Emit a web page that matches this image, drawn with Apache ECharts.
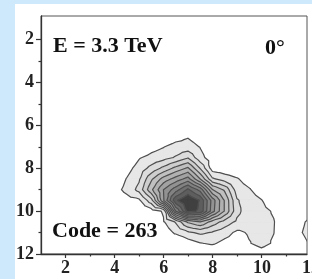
<!DOCTYPE html>
<html>
<head>
<meta charset="utf-8">
<script src="https://cdn.jsdelivr.net/npm/echarts@6/dist/echarts.min.js"></script>
<style>
  html, body { margin: 0; padding: 0; background: #cde9fb; }
  #main { position: absolute; left: 15px; top: 4px; width: 297px; height: 275px; background: #fff; }
</style>
</head>
<body>
<div id="main"></div>
<script>
// grid nodes of the map (x across, y down)
const xNodes = [4, 4.5, 5, 5.5, 6, 6.5, 7, 7.5, 8, 8.5, 9, 9.5, 10, 10.5, 11, 11.5, 12];
const yNodes = [6, 6.5, 7, 7.5, 8, 8.5, 9, 9.5, 10, 10.5, 11, 11.5, 12];
// density at each node, one row per yNode (in contour steps)
const density = [
  [0, 0, 0, 0, 0, 0, 0, 0, 0, 0, 0, 0, 0, 0, 0, 0, 0],
  [0, 0, 0, 0, 0, 0.5, 0.9, 0.5, 0, 0, 0, 0, 0, 0, 0, 0, 0],
  [0, 0, 0, 0.6, 0.95, 1.4, 1.4, 0.95, 0.3, 0, 0, 0, 0, 0, 0, 0, 0],
  [0, 0, 0.9, 1.3, 1.6, 2.1, 2.9, 1.3, 0.5, 0, 0, 0, 0, 0, 0, 0, 0],
  [0.1, 0.6, 1.43, 2.3, 3.26, 4.3, 5.17, 2.94, 0.5, 0.4, 0.2, 0, 0, 0, 0, 0, 0],
  [0.2, 1.05, 1.85, 3.8, 5.4, 6.4, 7.4, 5.0, 2.15, 1.5, 1.1, 0.5, 0.1, 0, 0, 0, 0],
  [0.6, 1.3, 2.3, 4.75, 7.0, 8.55, 10.2, 8.65, 5.05, 3.8, 1.5, 1.1, 0.4, 0, 0, 0, 0],
  [0.2, 0.6, 0.8, 2.6, 6.9, 10.8, 12.0, 10.9, 7.55, 4.9, 2.1, 1.5, 1.05, 0.3, 0, 0, 0],
  [0, 0, 0.2, 0.5, 1.12, 8.0, 11.4, 10.8, 7.4, 4.9, 2.3, 1.4, 1.3, 0.9, 0.3, 0, 0.4],
  [0, 0, 0, 0.2, 0.9, 2.1, 4.2, 5.0, 3.6, 2.6, 1.8, 1.4, 1.3, 1.05, 0.3, 0.6, 1.3],
  [0, 0, 0, 0, 0.3, 1.2, 1.8, 2.2, 1.9, 1.4, 0.8, 1.1, 1.2, 1.02, 0.3, 0.8, 1.4],
  [0, 0, 0, 0, 0, -0.3, 0.47, 0.95, 1.15, 0.7, 0.5, 0.95, 1.3, 0.9, 0.3, 0.5, 1.1],
  [0, 0, 0, 0, 0, 0, 0, 0, 0, 0, 0, 0.3, 0.6, 0.3, 0, 0, 0.3]
];
const levels = [1, 2, 3, 4, 5, 6, 7, 8, 9, 10, 11];
const levelColors = ['#e7e7e7', '#dcdcdc', '#cecece', '#c0c0c0', '#b1b1b1', '#a2a2a2',
  '#929292', '#828282', '#707070', '#5e5e5e', '#404040'];

const xMajor = [2, 4, 6, 8, 10];
const xMinor = [3, 5, 7, 9, 11];
const xLabels = [2, 4, 6, 8, 10, 12];
const yMajor = [2, 4, 6, 8, 10, 12];
const yMinor = [3, 5, 7, 9, 11];

const serif = '"Liberation Serif", "Times New Roman", serif';

function lerp(p, q, level) {
  const t = (level - p[2]) / (q[2] - p[2]);
  return [p[0] + t * (q[0] - p[0]), p[1] + t * (q[1] - p[1])];
}
// part of a triangle where density >= level
function clipTri(tri, level) {
  const out = [];
  for (let k = 0; k < 3; k++) {
    const p = tri[k], q = tri[(k + 1) % 3];
    const pin = p[2] >= level, qin = q[2] >= level;
    if (pin) out.push([p[0], p[1]]);
    if (pin !== qin) out.push(lerp(p, q, level));
  }
  return out;
}
// iso line piece inside a triangle
function crossTri(tri, level) {
  const out = [];
  for (let k = 0; k < 3; k++) {
    const p = tri[k], q = tri[(k + 1) % 3];
    if ((p[2] >= level) !== (q[2] >= level)) out.push(lerp(p, q, level));
  }
  return out;
}
function toPath(pts, api, close) {
  let s = '';
  pts.forEach(function (pt, k) {
    const c = api.coord(pt);
    s += (k ? 'L' : 'M') + c[0].toFixed(2) + ' ' + c[1].toFixed(2);
  });
  return close ? s + 'Z' : s;
}
function buildPath(api, level, mode) {
  let d = '';
  for (let j = 0; j < yNodes.length - 1; j++) {
    for (let i = 0; i < xNodes.length - 1; i++) {
      const a = [xNodes[i], yNodes[j], density[j][i]];
      const b = [xNodes[i + 1], yNodes[j], density[j][i + 1]];
      const c = [xNodes[i + 1], yNodes[j + 1], density[j + 1][i + 1]];
      const e = [xNodes[i], yNodes[j + 1], density[j + 1][i]];
      const m = [(a[0] + b[0]) / 2, (a[1] + e[1]) / 2, (a[2] + b[2] + c[2] + e[2]) / 4];
      const tris = [[a, b, m], [b, c, m], [c, e, m], [e, a, m]];
      tris.forEach(function (t) {
        if (mode === 'fill') {
          const poly = clipTri(t, level);
          if (poly.length >= 3) d += toPath(poly, api, true);
        } else {
          const seg = crossTri(t, level);
          if (seg.length === 2) d += toPath(seg, api, false);
        }
      });
    }
  }
  return d;
}

const chart = echarts.init(document.getElementById('main'));
const tickColor = '#333';
chart.setOption({
  animation: false,
  grid: [
    { left: 26, right: 5, top: 12, bottom: 25, show: true, borderColor: '#555', borderWidth: 1,
      containLabel: false, outerBoundsMode: 'none' },
    { left: 26, right: 1, top: 12, bottom: 25, show: false, containLabel: false, outerBoundsMode: 'none' }
  ],
  xAxis: [
    { gridIndex: 0, type: 'value', min: 1, max: 11.86, position: 'bottom',
      axisLine: { show: true, lineStyle: { color: tickColor, width: 1.3 } },
      axisTick: { show: true, customValues: xMajor, length: 4, lineStyle: { color: tickColor, width: 1.2 } },
      axisLabel: { show: false }, splitLine: { show: false } },
    { gridIndex: 0, type: 'value', min: 1, max: 11.86, position: 'bottom',
      axisLine: { show: false },
      axisTick: { show: true, customValues: xMinor, length: 2.5, lineStyle: { color: tickColor, width: 1.2 } },
      axisLabel: { show: false }, splitLine: { show: false } },
    { gridIndex: 1, type: 'value', min: 1, max: 12, position: 'bottom',
      axisLine: { show: false }, axisTick: { show: false }, splitLine: { show: false },
      axisLabel: { customValues: xLabels, margin: 5, color: '#222', fontFamily: serif,
        fontWeight: 'bold', fontSize: 18 } }
  ],
  yAxis: [
    { gridIndex: 0, type: 'value', inverse: true, min: 0.9, max: 12, position: 'left',
      axisLine: { show: true, lineStyle: { color: tickColor, width: 1.3 } },
      axisTick: { show: true, customValues: yMajor, length: 5, lineStyle: { color: tickColor, width: 1.2 } },
      axisLabel: { customValues: yMajor, margin: 7, color: '#222', fontFamily: serif,
        fontWeight: 'bold', fontSize: 18 },
      splitLine: { show: false } },
    { gridIndex: 0, type: 'value', inverse: true, min: 0.9, max: 12, position: 'left',
      axisLine: { show: false },
      axisTick: { show: true, customValues: yMinor, length: 2.5, lineStyle: { color: tickColor, width: 1.2 } },
      axisLabel: { show: false }, splitLine: { show: false } },
    { gridIndex: 1, type: 'value', show: false, min: 0.9, max: 12 }
  ],
  graphic: [
    { type: 'text', x: 38, y: 42, style: { text: 'E = 3.3 TeV', fill: '#111', fontFamily: serif,
      fontWeight: 'bold', fontSize: 22, verticalAlign: 'middle' } },
    { type: 'text', x: 250, y: 44, style: { text: '0°', fill: '#111', fontFamily: serif,
      fontWeight: 'bold', fontSize: 22, verticalAlign: 'middle' } },
    { type: 'text', x: 37, y: 227, style: { text: 'Code = 263', fill: '#111', fontFamily: serif,
      fontWeight: 'bold', fontSize: 22, verticalAlign: 'middle' } }
  ],
  series: [
    {
      type: 'custom', coordinateSystem: 'cartesian2d', xAxisIndex: 0, yAxisIndex: 0,
      clip: true, silent: true,
      data: levels.map(function (l) { return [l]; }),
      renderItem: function (params, api) {
        const level = levels[params.dataIndex];
        const color = levelColors[params.dataIndex];
        return { type: 'path', shape: { pathData: buildPath(api, level, 'fill') },
          style: { fill: color, stroke: color, lineWidth: 0.7 } };
      }
    },
    {
      type: 'custom', coordinateSystem: 'cartesian2d', xAxisIndex: 0, yAxisIndex: 0,
      clip: true, silent: true,
      data: levels.map(function (l) { return [l]; }),
      renderItem: function (params, api) {
        const level = levels[params.dataIndex];
        return { type: 'path', shape: { pathData: buildPath(api, level, 'line') },
          style: { fill: null, stroke: '#4f4f4f', lineWidth: 1.2, lineCap: 'round', lineJoin: 'round' } };
      }
    }
  ]
});
</script>
</body>
</html>
